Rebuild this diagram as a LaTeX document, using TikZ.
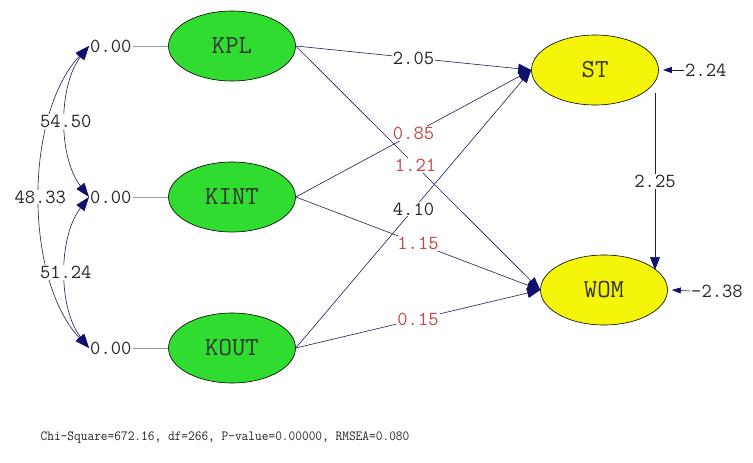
\documentclass[tikz,border=0pt]{standalone}
\usetikzlibrary{shapes.geometric,arrows.meta}
\definecolor{lgreen}{HTML}{30DC30}
\definecolor{lyellow}{HTML}{F5F50A}
\definecolor{lred}{HTML}{C04848}
\definecolor{lnavy}{HTML}{1C1C5C}
\definecolor{hnavy}{HTML}{10106E}
\tikzset{
  latent/.style={ellipse, draw=black, line width=0.6pt, minimum width=127pt, minimum height=70pt, inner sep=0pt,
    font=\ttfamily\fontsize{26}{26}\selectfont, text=black!80},
  exo/.style={latent, fill=lgreen},
  endo/.style={latent, fill=lyellow},
  lbl/.style={font=\ttfamily\fontsize{20}{20}\selectfont, inner sep=1pt, text=black!85},
  coef/.style={lbl, fill=white},
  redcoef/.style={coef, text=lred},
  path/.style={draw=lnavy, line width=0.6pt, -{Triangle[length=13pt,width=10pt,fill=hnavy,color=hnavy]}},
  cov/.style={draw=lnavy, line width=0.6pt, {Triangle[length=14pt,width=10pt,fill=hnavy,color=hnavy]}-{Triangle[length=14pt,width=10pt,fill=hnavy,color=hnavy]}},
  err/.style={draw=lnavy, line width=0.6pt, -{Triangle[length=9pt,width=6pt,fill=hnavy,color=hnavy]}},
  fixline/.style={draw=black!40, line width=0.7pt}
}
\begin{document}
\begin{tikzpicture}[x=1pt,y=-1pt]
\useasboundingbox[fill=white] (0,0) rectangle (753,463);
% latent variables
\node[exo] (KPL) at (232,46) {KPL};
\node[exo] (KINT) at (232,197) {KINT};
\node[exo] (KOUT) at (232,348) {KOUT};
\node[endo] (ST) at (595,70) {ST};
\node[endo] (WOM) at (604,290) {WOM};
% fixed variances
\node[lbl, anchor=west] (z1) at (89,46) {0.00};
\node[lbl, anchor=west] (z2) at (89,197) {0.00};
\node[lbl, anchor=west] (z3) at (89,348) {0.00};
\draw[fixline] (z1.east) -- (KPL.west);
\draw[fixline] (z2.east) -- (KINT.west);
\draw[fixline] (z3.east) -- (KOUT.west);
% covariances
\draw[cov] (z1.west) .. controls (24,115) and (24,279) .. (z3.west) node[coef, pos=0.5] {48.33};
\draw[cov] (z1.west) .. controls (58,86) and (58,157) .. (z2.west) node[coef, pos=0.5] {54.50};
\draw[cov] (z2.west) .. controls (58,237) and (58,308) .. (z3.west) node[coef, pos=0.5] {51.24};
% structural paths
\draw[path] (KPL.east) -- (WOM.west) node[redcoef, pos=0.49] {1.21};
\draw[path] (KOUT.east) -- (ST.west) node[coef, pos=0.5] {4.10};
\draw[path] (KINT.east) -- (ST.west) node[redcoef, pos=0.5] {0.85};
\draw[path] (KINT.east) -- (WOM.west) node[redcoef, pos=0.5] {1.15};
\draw[path] (KOUT.east) -- (WOM.west) node[redcoef, pos=0.5] {0.15};
\draw[path] (KPL.east) -- (ST.west) node[coef, pos=0.5] {2.05};
\draw[path] ([xshift=60pt,yshift=-23pt]ST.center) -- ([xshift=51pt,yshift=20pt]WOM.center) node[coef, pos=0.5] {2.25};
% error terms
\node[lbl, anchor=west] (eST) at (684,70) {2.24};
\node[lbl, anchor=west] (eWOM) at (690,291) {-2.38};
\draw[err] (eST.west) -- ([xshift=4pt]ST.east);
\draw[err] (eWOM.west) -- ([xshift=4pt]WOM.east);
% fit statistics
\node[font=\ttfamily\fontsize{14}{14}\selectfont, xscale=0.93, text=black!85] (fit) at (225,438) {Chi-Square=672.16, df=266, P-value=0.00000, RMSEA=0.080};
\end{tikzpicture}
\end{document}
